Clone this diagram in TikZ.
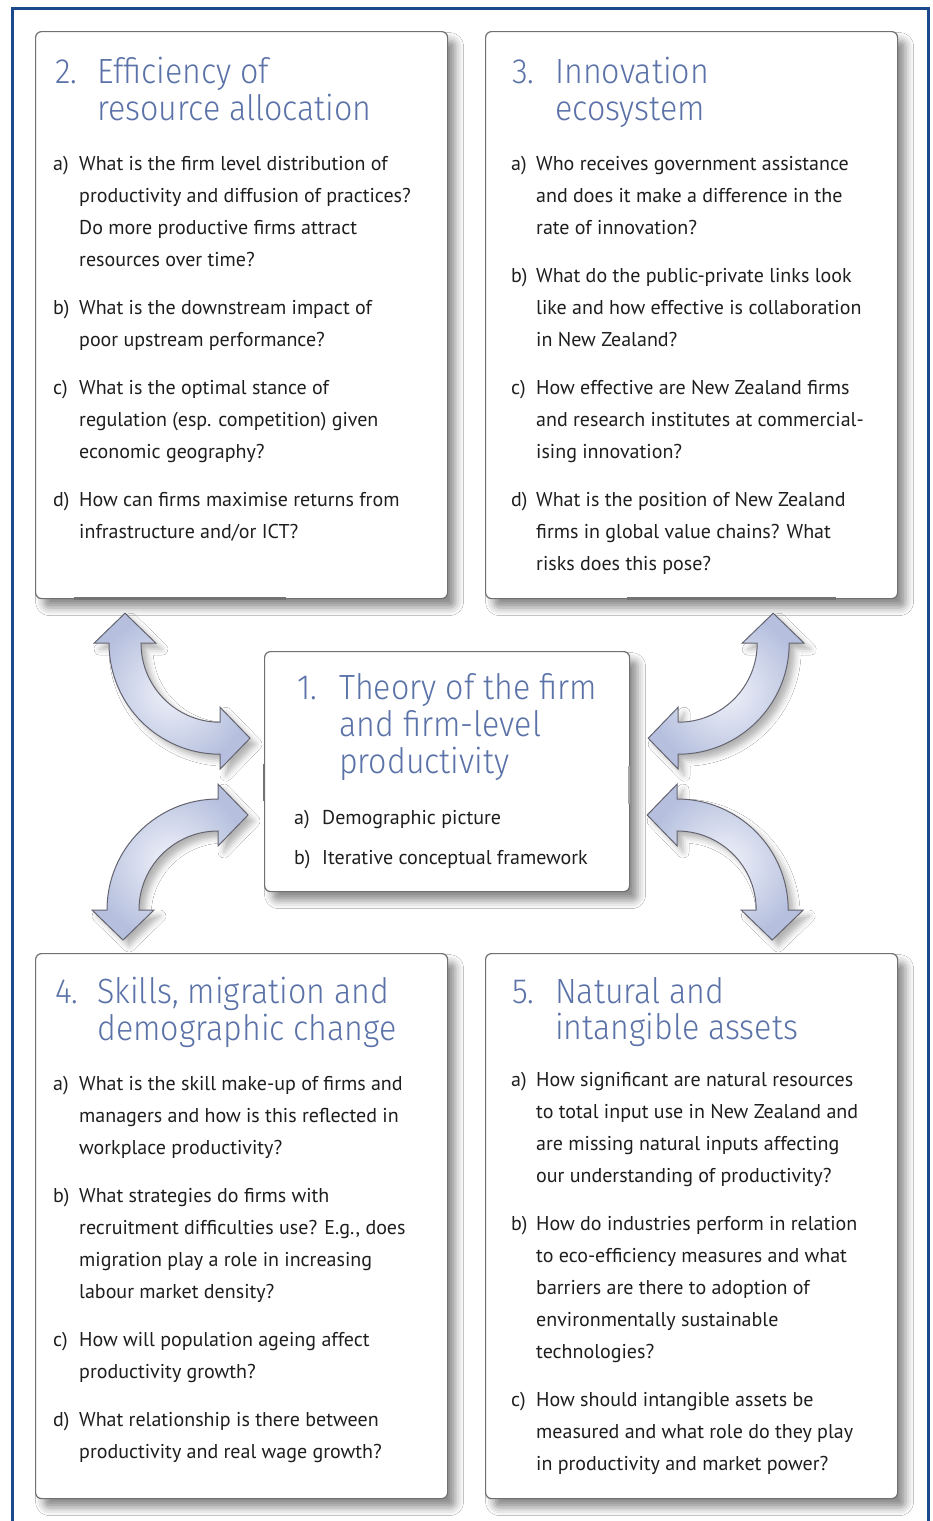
\documentclass[tikz,border=0pt]{standalone}
\usepackage{fontspec}
\setmainfont{PT Sans}
\newfontfamily\headfont{Fira Sans Light}[FakeStretch=0.92]
\newfontfamily\bodyfont{PT Sans}
\usepackage{xcolor}
\usetikzlibrary{calc,shadows.blur}

\definecolor{frameblue}{RGB}{28,72,140}
\definecolor{headblue}{RGB}{90,114,168}
\definecolor{boxline}{RGB}{112,112,112}
\definecolor{bodyink}{RGB}{30,30,30}
\definecolor{arrowdark}{RGB}{182,192,222}
\definecolor{arrowlight}{RGB}{240,242,250}
\definecolor{arrowline}{RGB}{100,100,112}

% item list: label column of width #1, then the lines
\newcommand\qlist[2]{\begin{tabular}[t]{@{}p{#1}@{}l@{}}#2\end{tabular}}

% double-headed quarter turn around centre #1 (placed at #2), starting at angle #3
\newcommand\twoway[3]{%
  \pgfmathsetmacro\ta{#3}\pgfmathsetmacro\tb{#3+90}%
  \pgfmathsetmacro\tc{#3-90}\pgfmathsetmacro\td{#3+180}%
  \coordinate (#1) at #2;
  \draw[link] ($(#1)+(\ta:111)$) -- ($(#1)+(\ta:126)$) -- ($(#1)+(\ta:95)+(\tc:30)$)
    -- ($(#1)+(\ta:64)$) -- ($(#1)+(\ta:79)$) arc[start angle=\ta, end angle=\tb, radius=79]
    -- ($(#1)+(\tb:64)$) -- ($(#1)+(\tb:95)+(\td:30)$) -- ($(#1)+(\tb:126)$)
    -- ($(#1)+(\tb:111)$) arc[start angle=\tb, end angle=\ta, radius=111] -- cycle;}

\begin{document}
\begin{tikzpicture}[
  x=1pt, y=1pt,
  box/.style ={draw=boxline,line width=1.2pt,rounded corners=6pt,fill=white,
               anchor=north west,inner sep=0pt,
               blur shadow={shadow xshift=8pt,shadow yshift=-9pt,
                            shadow blur radius=8pt,shadow opacity=45}},
  head/.style={anchor=base west,inner sep=0pt,text=headblue,
               font=\headfont\fontsize{35}{37}\selectfont},
  body/.style={anchor=base west,inner sep=0pt,text=bodyink,
               font=\bodyfont\fontsize{20}{32}\selectfont},
  link/.style={draw=arrowline,line width=1pt,inner color=arrowlight,
               outer color=arrowdark,
               blur shadow={shadow xshift=6pt,shadow yshift=-6pt,
                            shadow blur radius=6pt,shadow opacity=30}},
  seam/.style={line width=3pt,color=black!55}]

\useasboundingbox (0,0) rectangle (932,-1521);
\fill[white] (0,0) rectangle (932,-1521);
\draw[frameblue,line width=3pt] (12.5,-1521) |- (928.5,-8.5) -- (928.5,-1521);

% ---------- top row ----------
\node[box,minimum width=412pt,minimum height=567pt] (q2) at (35,-31) {};
\node[box,minimum width=412pt,minimum height=567pt] (q3) at (485,-31) {};
\draw[seam] (74,-598) -- (286,-598);
\draw[seam] (627,-598) -- (836,-598);

\node[head] (t2) at (55,-83) {\qlist{42pt}{2. & Efficiency of\\ & resource allocation}};
\node[body] (l2) at (53,-170) {\qlist{26pt}{%
  a) & What is the firm level distribution of\\
     & productivity and diffusion of practices?\\
     & Do more productive firms attract\\
     & resources over time?\\[16pt]
  b) & What is the downstream impact of\\
     & poor upstream performance?\\[16pt]
  c) & What is the optimal stance of\\
     & regulation (esp. competition) given\\
     & economic geography?\\[16pt]
  d) & How can firms maximise returns from\\
     & infrastructure and/or ICT?}};

\node[head] (t3) at (512,-83) {\qlist{43pt}{3. & Innovation\\ & ecosystem}};
\node[body] (l3) at (511,-170) {\qlist{25pt}{%
  a) & Who receives government assistance\\
     & and does it make a difference in the\\
     & rate of innovation?\\[16pt]
  b) & What do the public-private links look\\
     & like and how effective is collaboration\\
     & in New Zealand?\\[16pt]
  c) & How effective are New Zealand firms\\
     & and research institutes at commercial-\\
     & ising innovation?\\[16pt]
  d) & What is the position of New Zealand\\
     & firms in global value chains? What\\
     & risks does this pose?}};

% ---------- centre ----------
\node[box,minimum width=365pt,minimum height=240pt] (q1) at (264,-651) {};
\draw[seam,line width=2.5pt] (264,-764) -- (264,-801);
\draw[seam,line width=2.5pt,color=black!35] (629,-766) -- (629,-804);

\node[head] (t1) at (297,-699) {\qlist{42pt}{1. & Theory of the firm\\ & and firm-level\\ & productivity}};
\node[body] (l1) at (294,-824) {\qlist{28pt}{%
  a) & Demographic picture\\[8pt]
  b) & Iterative conceptual framework}};

% ---------- bottom row ----------
\node[box,minimum width=412pt,minimum height=545pt] (q4) at (35,-953) {};
\node[box,minimum width=412pt,minimum height=545pt] (q5) at (485,-953) {};

\node[head] (t4) at (55,-1003) {\qlist{42pt}{4. & Skills, migration and\\ & demographic change}};
\node[body] (l4) at (53,-1090) {\qlist{26pt}{%
  a) & What is the skill make-up of firms and\\
     & managers and how is this reflected in\\
     & workplace productivity?\\[16pt]
  b) & What strategies do firms with\\
     & recruitment difficulties use? E.g., does\\
     & migration play a role in increasing\\
     & labour market density?\\[16pt]
  c) & How will population ageing affect\\
     & productivity growth?\\[16pt]
  d) & What relationship is there between\\
     & productivity and real wage growth?}};

\node[head,font=\headfont\fontsize{35}{33}\selectfont] (t5) at (512,-1003)
  {\qlist{43pt}{5. & Natural and\\ & intangible assets}};
\node[body] (l5) at (511,-1086) {\qlist{25pt}{%
  a) & How significant are natural resources\\
     & to total input use in New Zealand and\\
     & are missing natural inputs affecting\\
     & our understanding of productivity?\\[16pt]
  b) & How do industries perform in relation\\
     & to eco-efficiency measures and what\\
     & barriers are there to adoption of\\
     & environmentally sustainable\\
     & technologies?\\[16pt]
  c) & How should intangible assets be\\
     & measured and what role do they play\\
     & in productivity and market power?}};

% ---------- two-way arrows ----------
\twoway{a21}{($(q2.south -| q1.west)+(-44,-44)$)}{180}
\twoway{a31}{($(q3.south -| q1.east)+(48,-44)$)}{270}
\twoway{a41}{($(q4.north -| q1.west)+(-46,43)$)}{90}
\twoway{a51}{($(q5.north -| q1.east)+(47,43)$)}{0}

\end{tikzpicture}
\end{document}
